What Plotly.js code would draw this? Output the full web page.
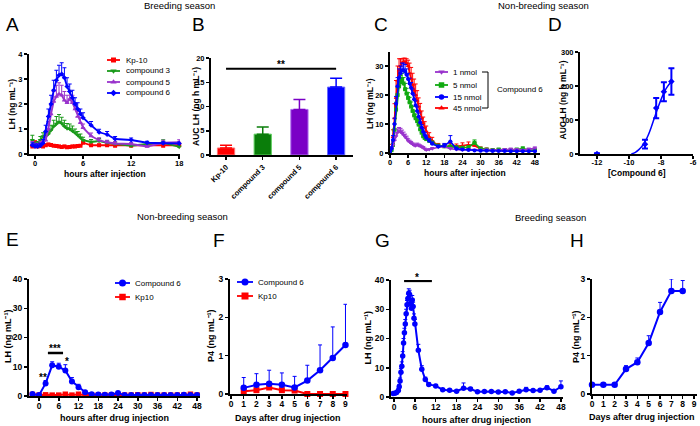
<!DOCTYPE html>
<html><head><meta charset="utf-8">
<script src="https://cdn.plot.ly/plotly-3.0.1.min.js"></script>
<style>html,body{margin:0;padding:0;background:#fff}#chart{width:700px;height:426px}</style>
</head><body><div id="chart"></div>
<script>
// ================= DATA =================
// Panel A – breeding season, LH after injection
const aTimes = [-0.33,0,0.33,0.67,1,1.33,1.67,2,2.33,2.67,3,3.33,3.67,4,4.33,4.67,5,5.33,5.67,6,7,8,9,10,12,14,16,18];
const aLabels = ['Kp-10','compound 3','compound 5','compound 6'];
const aKp10 = [0.30,0.45,0.30,0.33,0.30,0.35,0.38,0.36,0.33,0.32,0.30,0.28,0.30,0.27,0.28,0.30,0.30,0.32,0.33,0.45,0.35,0.35,0.35,0.33,0.33,0.35,0.33,0.35];
const aKp10Err = [0.05,0.08,0.05,0.05,0.05,0.05,0.05,0.05,0.05,0.05,0.05,0.05,0.05,0.04,0.04,0.05,0.05,0.05,0.05,0.06,0.05,0.05,0.05,0.05,0.05,0.05,0.05,0.05];
const aC3 = [0.55,0.35,0.40,0.55,0.70,0.72,0.80,0.95,1.10,1.20,1.28,1.22,1.10,1.02,1.00,0.92,0.85,0.75,0.65,0.55,0.48,0.52,0.45,0.40,0.33,0.40,0.45,0.28];
const aC3Err = [0.20,0.10,0.10,0.15,0.15,0.15,0.20,0.20,0.25,0.30,0.30,0.25,0.25,0.20,0.20,0.20,0.15,0.15,0.15,0.12,0.10,0.10,0.08,0.08,0.06,0.08,0.12,0.05];
const aC5 = [0.40,0.35,0.35,0.40,0.45,0.55,1.00,1.60,2.10,2.30,2.40,2.35,2.15,2.05,2.20,2.05,1.80,1.50,1.25,1.05,0.72,0.55,0.47,0.42,0.40,0.30,0.45,0.47];
const aC5Err = [0.10,0.08,0.08,0.10,0.10,0.15,0.30,0.35,0.40,0.45,0.45,0.40,0.35,0.30,0.30,0.30,0.25,0.20,0.20,0.15,0.12,0.10,0.08,0.08,0.06,0.05,0.10,0.10];
const aC6 = [0.35,0.30,0.30,0.33,0.43,0.90,1.50,2.00,2.55,2.95,3.15,3.20,3.05,2.70,2.50,2.25,2.00,1.80,1.60,1.45,1.15,0.87,0.78,0.60,0.56,0.45,0.43,0.42];
const aC6Err = [0.10,0.10,0.10,0.10,0.15,0.25,0.30,0.35,0.40,0.40,0.40,0.45,0.40,0.35,0.30,0.30,0.25,0.25,0.20,0.20,0.15,0.12,0.12,0.10,0.08,0.06,0.06,0.06];

// Panel B – AUC LH
const bCats = ['Kp-10','compound 3','compound 5','compound 6'];
const bAuc = [1.45,4.3,9.4,14.0];
const bErr = [0.55,1.45,2.05,1.8];
const bSig = [0, 3, 17.8];      // from, to, level
const bSigText = '**';

// Panel C – non-breeding season, doses of compound 6
const cTimes = [0,0.5,1,1.5,2,2.5,3,3.5,4,4.5,5,5.5,6,6.5,7,7.5,8,8.5,9,9.5,10,10.5,11,11.5,12,13,14,16,18,20,22,24,26,28,30,32,34,36,38,40,42,44,46,48];
const cLabels = ['1 nmol','5 nmol','15 nmol','45 nmol'];
const c1 = [0.8,1.6,2.8,4.3,5.8,7.0,7.5,7.3,6.8,6.2,5.6,5.0,4.2,3.8,3.4,3.0,2.6,2.5,2.8,2.6,2.3,2.1,1.8,1.4,1.0,1.2,1.5,2.0,2.2,1.5,1.2,1.0,1.2,1.0,1.0,1.1,1.0,1.0,1.2,1.3,1.2,1.0,1.3,1.6];
const c1Err = [0.3,0.5,0.8,1.0,1.2,1.3,1.3,1.2,1.1,1.0,0.9,0.8,0.7,0.6,0.6,0.5,0.5,0.5,0.6,0.5,0.5,0.4,0.4,0.3,0.3,0.3,0.4,0.5,0.5,0.4,0.3,0.3,0.3,0.3,0.3,0.3,0.3,0.3,0.3,0.4,0.3,0.3,0.4,0.5];
const c5 = [0.5,1.0,2.8,8.0,15.0,20.0,23.0,24.5,25.5,24.0,22.0,20.5,19.0,17.5,16.0,14.5,13.0,12.0,11.0,9.8,8.2,7.0,5.8,5.2,4.8,4.2,3.5,2.5,2.3,2.2,2.0,1.8,2.0,3.5,1.5,1.2,1.0,1.2,1.0,1.0,1.2,1.5,1.0,1.0];
const c5Err = [0.2,0.5,1.0,2.0,2.5,2.5,2.5,2.2,2.0,2.0,2.0,1.8,1.8,1.7,1.6,1.5,1.5,1.4,1.3,1.2,1.1,1.0,0.9,0.8,0.8,0.7,0.6,0.5,0.5,0.5,0.4,0.4,0.5,1.0,0.4,0.3,0.3,0.3,0.3,0.3,0.3,0.6,0.3,0.3];
const c15 = [0.5,1.5,4.5,10.0,17.0,23.0,26.0,27.5,28.5,28.5,28.0,27.0,25.5,24.0,22.5,20.5,18.5,16.5,14.5,12.5,10.5,8.8,7.3,6.2,5.3,4.2,3.2,2.2,2.5,4.0,1.5,1.2,1.0,0.9,0.8,0.8,0.7,0.7,0.7,0.6,0.6,0.6,0.6,0.6];
const c15Err = [0.2,0.6,1.5,2.0,2.5,3.0,3.0,2.5,2.5,2.5,2.5,2.0,2.0,1.8,1.8,1.6,1.5,1.5,1.4,1.3,1.2,1.0,1.0,0.9,0.8,0.7,0.6,0.5,0.8,2.0,0.5,0.4,0.3,0.3,0.3,0.3,0.3,0.2,0.2,0.2,0.2,0.2,0.2,0.2];
const c45 = [0.5,2.0,5.5,12.0,19.0,25.0,28.5,30.0,31.0,31.5,31.5,31.0,30.0,27.5,25.5,23.5,21.5,20.0,18.0,16.0,14.3,12.0,10.2,8.8,7.5,5.5,4.2,2.5,2.2,2.5,2.3,2.5,2.8,2.5,1.5,1.2,1.0,0.9,0.8,0.8,0.7,0.8,0.7,0.7];
const c45Err = [0.3,1.0,2.5,5.0,6.0,5.0,4.0,2.5,1.5,1.2,1.2,1.5,2.0,3.5,4.0,4.0,4.0,3.8,3.5,3.0,2.8,2.5,2.2,2.0,1.8,1.5,1.2,0.8,0.8,0.8,0.8,1.0,1.0,1.0,0.6,0.5,0.4,0.4,0.3,0.3,0.3,0.3,0.3,0.3];
const cGroupLabel = 'Compound 6';

// Panel D – dose response
const dLogDose = [-12,-9,-8.30,-7.82,-7.35];
const dAuc = [0,29,135,183,213];
const dErr = [2,13,30,28,39];
const dFitX = [-9.85,-9.6,-9.4,-9.2,-9.0,-8.8,-8.6,-8.4,-8.2,-8.0,-7.8,-7.6,-7.35];
const dFitY = [0,5,12,22,36,55,80,108,135,160,182,198,213];
const dTickVals = [-12,-10,-8,-6];
const dTickText = ['-12','-10','-8','-6'];

// Panel E – non-breeding season
const eTimes = [-2,0,2,4,6,8,10,12,14,16,18,20,22,24,26,28,30,32,34,36,38,40,42,44,46,48];
const eLabels = ['Compound 6','Kp10'];
const eComp6 = [0.7,0.3,4.3,10.5,10.0,8.7,5.0,3.0,1.3,0.6,0.5,0.4,0.5,1.0,0.3,0.3,0.3,0.3,0.3,0.3,0.3,0.3,0.3,0.4,0.3,0.3];
const eComp6Err = [0.3,0.2,1.0,1.2,1.2,2.0,1.3,1.0,0.5,0.2,0.2,0.2,0.2,0.4,0.1,0.1,0.1,0.1,0.1,0.1,0.1,0.1,0.1,0.2,0.1,0.1];
const eKp10 = [0.5,0.3,0.4,0.3,0.3,0.6,0.3,0.6,0.3,0.3,0.3,0.3,0.3,0.3,0.3,0.3,0.4,0.3,0.5,0.3,0.3,0.3,0.3,0.3,0.6,0.3];
const eKp10Err = [0.2,0.1,0.2,0.1,0.1,0.2,0.1,0.2,0.1,0.1,0.1,0.1,0.1,0.1,0.1,0.1,0.2,0.1,0.2,0.1,0.1,0.1,0.1,0.1,0.2,0.1];
const eStars = [['**',1.2,7.2],['***',4.9,17.2],['*',8.5,12.8]];
const eSigLine = [2.7, 7.3, 14.7];

// Panel F – P4, non-breeding
const fDays = [1,2,3,4,5,6,7,8,9];
const fComp6 = [0.16,0.24,0.27,0.24,0.17,0.35,0.62,0.94,1.28];
const fComp6Err = [0.27,0.29,0.35,0.31,0.29,0.40,0.66,0.81,1.06];
const fKp10 = [0.07,0.10,0.17,0.10,0.09,0,0,0,0];
const fKp10Err = [0.04,0.04,0.05,0.04,0.04,0,0,0,0];

// Panel G – breeding season
const gTimes = [-0.25,0.25,0.75,1.25,1.5,1.75,2,2.25,2.5,2.75,3,3.25,3.5,3.75,4,4.25,4.5,4.75,5,5.25,5.5,5.75,6,7,8,9,10,12,14,16,18,20,22,24,26,28,30,32,34,36,38,40,42,44,46,48];
const gLH = [1.2,1.3,1.5,2.2,3.5,5.5,8.5,10.5,14.0,18.5,22.0,25.0,28.5,31.5,33.7,35.5,35.0,32.0,30.3,33.2,30.9,26.9,25.0,16.0,9.5,6.0,4.3,3.8,2.5,2.3,2.0,3.0,2.7,1.8,1.9,1.9,1.7,1.8,1.4,2.0,2.5,2.2,2.3,3.2,2.0,3.5];
const gErr = [0.3,0.3,0.4,0.5,0.8,1.0,1.2,1.5,1.5,1.5,1.5,1.5,1.5,1.5,1.5,1.5,1.5,1.5,1.5,1.5,1.5,1.5,1.5,2.0,1.2,0.8,0.6,0.5,0.4,0.4,0.3,1.8,0.6,0.3,0.3,0.3,0.3,0.3,0.3,0.3,0.8,0.4,0.3,0.6,0.3,2.0];
const gSigLine = [2.9, 10.9, 39.7];
const gStar = ['*', 6.5, 39.7];

// Panel H – P4, breeding
const hDays = [0,1,2,3,4,5,6,7,8];
const hP4 = [0.24,0.24,0.24,0.65,0.83,1.33,2.14,2.69,2.69];
const hErr = [0,0,0,0.09,0.11,0.19,0.25,0.31,0.27];

// ================= STYLE / LAYOUT =================
const FONT = 'Liberation Sans, Arial, sans-serif';
const W = 700, H = 426;
const px = x => x / W;
const py = y => 1 - y / H;
const RED = '#ff0000', GREEN = '#1a9a1a', PURPLE = '#9933cc', BLUE = '#0000ff';

function ax(d0, d1, range, anchor, fs, extra) {
  return Object.assign({
    domain: [d0, d1], range, anchor,
    showline: true, linecolor: '#000', linewidth: 2,
    ticks: 'outside', ticklen: 3, tickwidth: 1.5, tickcolor: '#000',
    showgrid: false, zeroline: false, fixedrange: true,
    tickfont: {family: FONT, size: fs, color: '#000', weight: 'bold'}
  }, extra || {});
}
function ser(xa, ya, x, y, err, color, symbol, size, lw) {
  const t = {type: 'scatter', mode: 'lines+markers', x, y, xaxis: xa, yaxis: ya,
    cliponaxis: false, showlegend: false, hoverinfo: 'skip',
    line: {color, width: lw}, marker: {color, symbol, size}};
  if (err) t.error_y = {type: 'data', symmetric: false, array: err,
    arrayminus: err.map(() => 0), color, thickness: 1, width: 2};
  return t;
}

const traces = [];
// A
traces.push(ser('x','y', aTimes, aKp10, aKp10Err, RED, 'square', 4, 1.8));
traces.push(ser('x','y', aTimes, aC3, aC3Err, GREEN, 'triangle-down', 4.5, 1.8));
traces.push(ser('x','y', aTimes, aC5, aC5Err, PURPLE, 'triangle-up', 4.5, 1.8));
traces.push(ser('x','y', aTimes, aC6, aC6Err, BLUE, 'diamond', 4, 1.8));
// B
const bFill = [RED, '#0a7d0a', '#7a00c6', BLUE];
const bEdge = ['#ff7070', '#5fd05f', '#b070f0', '#6a6aff'];
bCats.forEach((c, i) => traces.push({type: 'bar', x: [c], y: [bAuc[i]], xaxis: 'x2', yaxis: 'y2',
  width: 0.47, showlegend: false, hoverinfo: 'skip',
  marker: {color: bFill[i], line: {color: bEdge[i], width: 1}},
  error_y: {type: 'data', symmetric: false, array: [bErr[i]], arrayminus: [0], color: bFill[i], thickness: 1.5, width: 6}}));
// C
const cColors = [PURPLE, '#11aa11', BLUE, RED];
const cSymbols = ['triangle-down', 'square', 'circle', 'triangle-up'];
const cSeries = [c1, c5, c15, c45], cErrs = [c1Err, c5Err, c15Err, c45Err];
[3, 1, 0, 2].forEach(i => traces.push(ser('x3','y3', cTimes, cSeries[i], cErrs[i], cColors[i], cSymbols[i], 4, 1.6)));
// D
traces.push({type: 'scatter', mode: 'lines', x: dFitX, y: dFitY, xaxis: 'x4', yaxis: 'y4', showlegend: false,
  hoverinfo: 'skip', line: {color: BLUE, width: 1.5, shape: 'spline'}});
traces.push({type: 'scatter', mode: 'markers', x: dLogDose, y: dAuc, xaxis: 'x4', yaxis: 'y4', showlegend: false,
  hoverinfo: 'skip', cliponaxis: false, marker: {color: BLUE, symbol: 'diamond', size: 5},
  error_y: {type: 'data', array: dErr, color: BLUE, thickness: 2, width: 3}});
// E
traces.push(ser('x5','y5', eTimes, eKp10, eKp10Err, RED, 'square', 5.5, 2));
traces.push(ser('x5','y5', eTimes, eComp6, eComp6Err, BLUE, 'circle', 6, 2));
// F
traces.push(ser('x6','y6', fDays, fKp10, fKp10Err, RED, 'square', 6, 2));
traces.push(ser('x6','y6', fDays, fComp6, fComp6Err, BLUE, 'circle', 6.5, 2));
// G
traces.push(ser('x7','y7', gTimes, gLH, gErr, BLUE, 'circle', 5.5, 2));
// H
traces.push(ser('x8','y8', hDays, hP4, hErr, BLUE, 'circle', 6.5, 2));

// ---- manual legends (overlay pixel axis) ----
const legends = [
  {labels: aLabels, colors: [RED, GREEN, PURPLE, BLUE], symbols: ['square','triangle-down','triangle-up','diamond'], sizes: [4,4.5,4.5,4], rows: [60,71,82,93], x0: 107, x1: 120, tx: 124},
  {labels: cLabels, colors: cColors, symbols: cSymbols, sizes: [4.5,4.5,4.5,4.5], rows: [72,85,97,108], x0: 435, x1: 448, tx: 451},
  {labels: eLabels, colors: [BLUE, RED], symbols: ['circle','square'], sizes: [6,5.5], rows: [283,297], x0: 115, x1: 130, tx: 133},
  {labels: eLabels, colors: [BLUE, RED], symbols: ['circle','square'], sizes: [6,6], rows: [282,296], x0: 237, x1: 253, tx: 256}
];
const annotations = [];
legends.forEach(L => L.labels.forEach((lab, i) => {
  const yy = L.rows[i];
  traces.push({type: 'scatter', mode: 'lines', x: [L.x0, L.x1], y: [yy, yy], xaxis: 'x9', yaxis: 'y9',
    showlegend: false, hoverinfo: 'skip', line: {color: L.colors[i], width: 1.8}});
  traces.push({type: 'scatter', mode: 'markers', x: [(L.x0 + L.x1) / 2], y: [yy], xaxis: 'x9', yaxis: 'y9',
    showlegend: false, hoverinfo: 'skip', marker: {color: L.colors[i], symbol: L.symbols[i], size: L.sizes[i] + 1}});
  annotations.push({text: lab, xref: 'paper', yref: 'paper', x: px(L.tx), y: py(yy), xanchor: 'left', yanchor: 'middle',
    showarrow: false, font: {family: FONT, size: 8, color: '#000'}});
}));

function note(text, x, y, size, opt) {
  annotations.push(Object.assign({text, xref: 'paper', yref: 'paper', x: px(x), y: py(y),
    xanchor: 'center', yanchor: 'middle', showarrow: false,
    font: {family: FONT, size, color: '#000'}}, opt || {}));
}
const bold = s => ({family: FONT, size: s, color: '#000', weight: 'bold'});
// section titles
note('Breeding season', 179, 6, 9.5);
note('Non-breeding season', 543, 6, 9.5);
note('Non-breeding season', 182, 216, 9.5);
note('Breeding season', 550, 217, 9.5);
// panel letters
[['A',12,25],['B',198,25],['C',381,25],['D',555,25],['E',12,239],['F',219,240],['G',382,240],['H',577,240]]
  .forEach(([t,x,y]) => note(t, x, y, 19));
// axis titles
const LH = 'LH (ng mL\u207B\u00B9)', AUC = 'AUC LH (ng h mL\u207B\u00B9)', P4 = 'P4 (ng mL\u207B\u00B9)';
const yTitles = [
  [LH, 11.5, 104, 8.5], [AUC, 196, 107, 8.5],
  [LH, 370, 104, 8.5], [AUC, 562.5, 100, 8.5],
  [LH, 8, 337, 9], [P4, 211, 336, 9],
  [LH, 367.5, 338, 9], [P4, 576, 337, 9]];
yTitles.forEach(([t,x,y,s]) => note(t, x, y, s, {textangle: -90, font: bold(s)}));
const xTitles = [
  ['hours after injection', 104.5, 174, 8.5], ['hours after injection', 465, 173, 8.5],
  ['[Compound 6]', 637, 172.5, 8.5], ['hours after drug injection', 114, 418, 9],
  ['Days after drug injection', 288, 418, 9], ['hours after drug injection', 477, 420, 9],
  ['Days after drug injection', 642, 417, 9]];
xTitles.forEach(([t,x,y,s]) => note(t, x, y, s, {font: bold(s)}));
// C legend group label
note(cGroupLabel, 495, 90, 8, {xanchor: 'left'});
// significance stars
annotations.push({text: bSigText, xref: 'x2', yref: 'y2', x: (bSig[0] + bSig[1]) / 2, y: 19.3, showarrow: false,
  yshift: -3, font: bold(10)});
eStars.forEach(([t,x,y]) => annotations.push({text: t, xref: 'x5', yref: 'y5', x, y, showarrow: false, yshift: -3, font: bold(10)}));
annotations.push({text: gStar[0], xref: 'x7', yref: 'y7', x: gStar[1], y: gStar[2], showarrow: false, yshift: 3, font: bold(10)});

const shapes = [
  {type: 'line', xref: 'x2', yref: 'y2', x0: bSig[0], x1: bSig[1], y0: bSig[2], y1: bSig[2], line: {color: '#000', width: 2}},
  {type: 'line', xref: 'x5', yref: 'y5', x0: eSigLine[0], x1: eSigLine[1], y0: eSigLine[2], y1: eSigLine[2], line: {color: '#000', width: 2.5}},
  {type: 'line', xref: 'x7', yref: 'y7', x0: gSigLine[0], x1: gSigLine[1], y0: gSigLine[2], y1: gSigLine[2], line: {color: '#000', width: 2.5}},
  // bracket of C legend
  {type: 'path', xref: 'paper', yref: 'paper',
   path: `M ${px(482)} ${py(72)} L ${px(488)} ${py(72)} L ${px(488)} ${py(108)} L ${px(482)} ${py(108)}`,
   line: {color: '#000', width: 1}}
];

const T0 = [0,6,12,18,24,30,36,42,48];
const up = {ticklabelstandoff: -2};
const layout = {
  width: W, height: H, margin: {l: 0, r: 0, t: 0, b: 0},
  paper_bgcolor: '#fff', plot_bgcolor: 'rgba(0,0,0,0)', showlegend: false, barmode: 'overlay',
  font: {family: FONT, color: '#000'},
  xaxis:  ax(px(29),  px(180), [-0.75, 18.1], 'y', 7.5, Object.assign({tickvals: [0,6,12,18]}, up)),
  yaxis:  ax(py(154), py(54),  [0, 4], 'x', 7.5, {dtick: 1}),
  xaxis2: ax(px(211), px(353), [-0.41, 3.46], 'y2', 7.5, {type: 'category', tickangle: -45}),
  yaxis2: ax(py(155), py(58),  [0, 20], 'x2', 7.5, {dtick: 5}),
  xaxis3: ax(px(390), px(540), [0, 49.7], 'y3', 7.5, Object.assign({tickvals: T0}, up)),
  yaxis3: ax(py(153), py(51.5), [0, 35], 'x3', 7.5, {tickvals: [0,10,20,30]}),
  xaxis4: ax(px(580), px(693), [-13.06, -6.0], 'y4', 7.5, {tickvals: dTickVals, ticktext: dTickText, ticklabelstandoff: -3}),
  yaxis4: ax(py(154), py(52),  [0, 300], 'x4', 7.5, {dtick: 100}),
  xaxis5: ax(px(29),  px(200), [-3.04, 48.9], 'y5', 8.5, Object.assign({tickvals: T0}, up)),
  yaxis5: ax(py(396), py(279), [0, 40], 'x5', 8.5, {dtick: 10}),
  xaxis6: ax(px(230), px(347), [-0.08, 9.12], 'y6', 8.5, Object.assign({dtick: 1}, up)),
  yaxis6: ax(py(394), py(279), [0, 3], 'x6', 8.5, {dtick: 1}),
  xaxis7: ax(px(391), px(563), [-0.86, 48.6], 'y7', 8.5, Object.assign({tickvals: T0}, up)),
  yaxis7: ax(py(397), py(280), [0, 40], 'x7', 8.5, {dtick: 10}),
  xaxis8: ax(px(592), px(697), [0, 9.26], 'y8', 8.5, Object.assign({dtick: 1}, up)),
  yaxis8: ax(py(394), py(279), [0, 3], 'x8', 8.5, {dtick: 1}),
  xaxis9: {domain: [0, 1], range: [0, W], visible: false, fixedrange: true, anchor: 'y9'},
  yaxis9: {domain: [0, 1], range: [H, 0], visible: false, fixedrange: true, anchor: 'x9'},
  annotations, shapes
};

Plotly.newPlot('chart', traces, layout, {staticPlot: true, displayModeBar: false});
</script>
</body></html>
